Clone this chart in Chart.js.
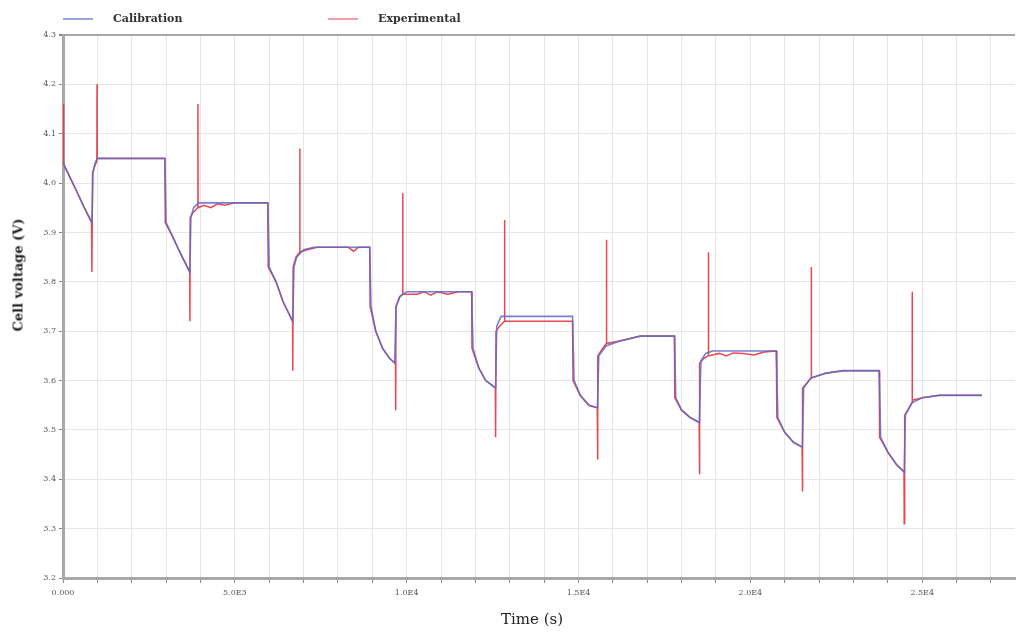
<!DOCTYPE html>
<html>
<head>
<meta charset="utf-8">
<script src="https://cdn.jsdelivr.net/npm/chart.js@4/dist/chart.umd.min.js"></script>
<style>
  html, body { margin: 0; padding: 0; background: #fff; }
  #wrap { position: relative; width: 1018px; height: 632px; }
  .legend { position: absolute; top: 11px; font-family: 'DejaVu Serif', serif; font-size: 11px; font-weight: bold; color: #333; line-height: 16px; }
  .legend span.line { display: inline-block; width: 30px; height: 0; border-top: 2px solid; vertical-align: middle; margin-right: 20px; }
  .axis-title { position: absolute; font-family: 'DejaVu Serif', serif; color: #222; white-space: nowrap; }
  #yTitle { left: 18px; top: 275px; font-size: 13px; font-weight: bold; transform: translate(-50%, -50%) rotate(-90deg); }
  #xTitle { left: 532px; top: 619px; font-size: 15px; transform: translate(-50%, -50%); }
</style>
</head>
<body>
<div id="wrap">
  <canvas id="voltageChart" width="1018" height="632"></canvas>
  <div class="legend" style="left:63px"><span class="line" style="border-color:#9aa3da"></span>Calibration</div>
  <div class="legend" style="left:328px"><span class="line" style="border-color:#f2a0a8"></span>Experimental</div>
  <div class="axis-title" id="yTitle">Cell voltage (V)</div>
  <div class="axis-title" id="xTitle">Time (s)</div>
</div>
<script>
/* ================= DATA ================= */
// Calibration: time (s) / cell voltage (V)
const calTime = [0, 200, 400, 600, 843, 870, 930, 1000, 2965,
  3000, 3200, 3400, 3692, 3720, 3800, 3950, 5959,
  6000, 6200, 6400, 6686, 6720, 6800, 7000, 7300, 8924,
  8960, 9100, 9300, 9500, 9651, 9690, 9800, 10000, 11890,
  11930, 12100, 12300, 12587, 12620, 12750, 14826,
  14870, 15050, 15300, 15552, 15590, 15800, 16200, 16800, 17791,
  17830, 18000, 18250, 18517, 18560, 18700, 18900, 20756,
  20800, 21000, 21250, 21512, 21550, 21750, 22200, 22700, 23750,
  23790, 24000, 24250, 24477, 24510, 24700, 25000, 25500, 26740];
const calVolt = [4.04, 4.012, 3.983, 3.953, 3.92, 4.02, 4.04, 4.05, 4.05,
  3.92, 3.89, 3.86, 3.82, 3.93, 3.95, 3.96, 3.96,
  3.83, 3.80, 3.76, 3.72, 3.83, 3.85, 3.865, 3.87, 3.87,
  3.75, 3.70, 3.665, 3.645, 3.635, 3.75, 3.77, 3.78, 3.78,
  3.665, 3.625, 3.60, 3.585, 3.71, 3.73, 3.73,
  3.60, 3.57, 3.55, 3.545, 3.65, 3.67, 3.68, 3.69, 3.69,
  3.565, 3.54, 3.525, 3.515, 3.64, 3.655, 3.66, 3.66,
  3.525, 3.495, 3.475, 3.465, 3.585, 3.605, 3.615, 3.62, 3.62,
  3.485, 3.455, 3.43, 3.415, 3.53, 3.555, 3.565, 3.57, 3.57];

// Experimental: time (s) / cell voltage (V), with the switching spikes
const expTime = [0, 15, 200, 400, 600, 830, 840, 860, 900, 960, 985, 990, 995, 1100, 2965,
  2975, 3200, 3400, 3685, 3692, 3700, 3780, 3850, 3920, 3925, 3930, 4100, 4300, 4500, 4700, 5000, 5959,
  5970, 6200, 6400, 6680, 6686, 6695, 6780, 6885, 6890, 6895, 7100, 7400, 8300, 8450, 8600, 8924,
  8935, 9100, 9300, 9500, 9675, 9680, 9690, 9800, 9880, 9884, 9890, 10300, 10500, 10700, 10900, 11200, 11500, 11890,
  11900, 12100, 12300, 12580, 12587, 12600, 12700, 12845, 12849, 12853, 14826,
  14840, 15050, 15300, 15545, 15552, 15565, 15700, 15810, 15814, 15818, 16200, 16800, 17791,
  17800, 18000, 18250, 18510, 18517, 18530, 18650, 18775, 18779, 18783, 19100, 19300, 19500, 19800, 20100, 20400, 20756,
  20770, 21000, 21250, 21505, 21512, 21525, 21650, 21769, 21773, 21777, 22200, 22700, 23750,
  23760, 24000, 24250, 24470, 24477, 24490, 24620, 24705, 24709, 24713, 25000, 25500, 26740];
const expVolt = [4.16, 4.04, 4.012, 3.983, 3.953, 3.92, 3.82, 4.02, 4.03, 4.04, 4.045, 4.20, 4.05, 4.05, 4.05,
  3.92, 3.89, 3.86, 3.82, 3.72, 3.93, 3.94, 3.945, 3.95, 4.16, 3.95, 3.955, 3.95, 3.958, 3.955, 3.96, 3.96,
  3.83, 3.80, 3.76, 3.72, 3.62, 3.83, 3.85, 3.86, 4.07, 3.86, 3.865, 3.87, 3.87, 3.862, 3.87, 3.87,
  3.75, 3.70, 3.665, 3.645, 3.635, 3.54, 3.75, 3.77, 3.775, 3.98, 3.775, 3.775, 3.78, 3.773, 3.78, 3.775, 3.78, 3.78,
  3.665, 3.625, 3.60, 3.585, 3.485, 3.70, 3.71, 3.72, 3.925, 3.72, 3.72,
  3.60, 3.57, 3.55, 3.545, 3.44, 3.65, 3.665, 3.675, 3.885, 3.675, 3.68, 3.69, 3.69,
  3.565, 3.54, 3.525, 3.515, 3.41, 3.635, 3.645, 3.65, 3.86, 3.65, 3.655, 3.65, 3.656, 3.655, 3.652, 3.658, 3.66,
  3.525, 3.495, 3.475, 3.465, 3.375, 3.585, 3.595, 3.605, 3.83, 3.605, 3.615, 3.62, 3.62,
  3.485, 3.455, 3.43, 3.415, 3.31, 3.53, 3.545, 3.555, 3.78, 3.56, 3.565, 3.57, 3.57];

// Axis ranges / ticks
const timeMax = 27700;
const timeStep = 1000;
const timeLabelEvery = 5000;
const voltMin = 3.2;
const voltMax = 4.3;
const voltStep = 0.1;

const toPoints = (xs, ys) => xs.map((x, i) => ({ x: x, y: ys[i] }));

/* ================= CELL VOLTAGE (LINE) ================= */
const voltageChart = new Chart(
  document.getElementById('voltageChart'),
  {
    type: 'scatter',
    data: {
      datasets: [
        {
          label: 'Calibration',
          data: toPoints(calTime, calVolt),
          showLine: true,
          borderColor: 'rgba(95,105,200,0.85)',
          borderWidth: 1.6,
          pointRadius: 0,
          tension: 0
        },
        {
          label: 'Experimental',
          data: toPoints(expTime, expVolt),
          showLine: true,
          borderColor: 'rgba(232,52,62,0.9)',
          borderWidth: 1.5,
          pointRadius: 0,
          tension: 0
        }
      ]
    },
    options: {
      responsive: false,
      animation: false,
      layout: { padding: { top: 35, right: 3, left: 0, bottom: 0 } },
      plugins: {
        legend: { display: false },
        tooltip: { enabled: false }
      },
      scales: {
        x: {
          type: 'linear',
          min: 0,
          max: timeMax,
          border: { color: '#a8a8a8', width: 3 },
          grid: { color: '#e6e6e6', lineWidth: 1, tickLength: 5, tickColor: '#888' },
          // one tick every 1000 s (Chart.js would otherwise spread them to fit max)
          afterBuildTicks: scale => {
            const ticks = [];
            for (let t = 0; t <= timeMax; t += timeStep) ticks.push({ value: t });
            scale.ticks = ticks;
          },
          ticks: {
            autoSkip: false,
            maxRotation: 0,
            padding: 5,
            color: '#555',
            font: { family: 'DejaVu Serif', size: 8 },
            callback: v => {
              if (v % timeLabelEvery !== 0) return '';
              return v === 0 ? '0.000' : v.toExponential(1).toUpperCase().replace('+', '');
            }
          },
          afterFit: scale => { scale.height = 54; }
        },
        y: {
          min: voltMin,
          max: voltMax,
          border: { color: '#a8a8a8', width: 3 },
          grid: {
            color: ctx => (ctx.tick && Math.abs(ctx.tick.value - voltMax) < 1e-6) ? '#a8a8a8' : '#e6e6e6',
            lineWidth: ctx => (ctx.tick && Math.abs(ctx.tick.value - voltMax) < 1e-6) ? 2 : 1,
            tickLength: 4,
            tickColor: '#888'
          },
          ticks: {
            stepSize: voltStep,
            padding: 3,
            color: '#555',
            font: { family: 'DejaVu Serif', size: 8 },
            callback: v => Number(v).toFixed(1)
          },
          afterFit: scale => { scale.width = 63; }
        }
      }
    }
  }
);
</script>
</body>
</html>
